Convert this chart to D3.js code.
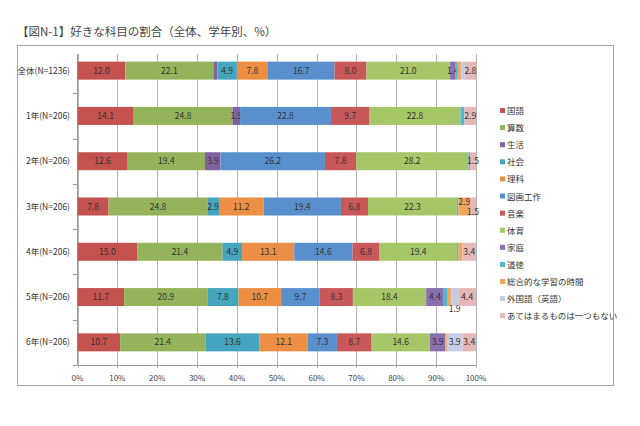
<!DOCTYPE html>
<html>
<head>
<meta charset="utf-8">
<script src="https://cdn.jsdelivr.net/npm/d3@7"></script>
<style>
  body { margin: 0; background: #fff; }
  svg { font-family: "Noto Sans CJK JP", "Noto Sans", sans-serif; }
</style>
</head>
<body>
<script>
// rows (top to bottom)
const categories = ['全体(N=1236)', '1年(N=206)', '2年(N=206)', '3年(N=206)', '4年(N=206)', '5年(N=206)', '6年(N=206)']

// one series per subject, values per row (%)
const kokugo  = [12.0, 14.1, 12.6, 7.8, 15.0, 11.7, 10.7]
const sansu   = [22.1, 24.8, 19.4, 24.8, 21.4, 20.9, 21.4]
const seikatu = [1.0, 1.9, 3.9, 0, 0, 0, 0]
const shakai  = [4.9, 0, 0, 2.9, 4.9, 7.8, 13.6]
const rika    = [7.8, 0, 0, 11.2, 13.1, 10.7, 12.1]
const zuga    = [16.7, 22.8, 26.2, 19.4, 14.6, 9.7, 7.3]
const ongaku  = [8.0, 9.7, 7.8, 6.8, 6.8, 8.3, 8.7]
const taiiku  = [21.0, 22.8, 28.2, 22.3, 19.4, 18.4, 14.6]
const katei   = [1.4, 0, 0, 0, 0, 4.4, 3.9]
const dotoku  = [0.5, 1.0, 0.4, 0.4, 0.4, 1.0, 0]
const sogo    = [0.8, 0, 0, 2.9, 1.0, 0.8, 0.4]
const gaikoku = [1.0, 0, 0, 0, 0, 1.9, 3.9]
const nashi   = [2.8, 2.9, 1.5, 1.5, 3.4, 4.4, 3.4]

const subjects = ['国語', '算数', '生活', '社会', '理科', '図画工作', '音楽', '体育', '家庭', '道徳', '総合的な学習の時間', '外国語（英語）', 'あてはまるものは一つもない']
const series = [kokugo, sansu, seikatu, shakai, rika, zuga, ongaku, taiiku, katei, dotoku, sogo, gaikoku, nashi]
const colors = ['#c4524f', '#95b35a', '#7f63a0', '#45a5be', '#ec8f45', '#5a8fce', '#c9585a', '#a6c667', '#8a6fae', '#52b6d0', '#f4a55c', '#c3cee4', '#e5b8b7']
const ticks = [0, 10, 20, 30, 40, 50, 60, 70, 80, 90, 100]

const W = 640, H = 426
const svg = d3.select('body').append('svg').attr('width', W).attr('height', H)

svg.append('text')
    .attr('x', 17).attr('y', 36)
    .attr('font-size', 11.5).attr('fill', '#444')
    .text('【図N-1】好きな科目の割合（全体、学年別、%）')

svg.append('rect')
    .attr('x', 17.5).attr('y', 45.5).attr('width', 596).attr('height', 340)
    .attr('fill', 'none').attr('stroke', '#a6a6a6')

const x = d3.scaleLinear().domain([0, 100]).range([77.5, 476])
const band = d3.scaleBand().domain(categories).range([48, 365])

// gridlines
svg.append('g').selectAll('line').data(ticks).enter().append('line')
    .attr('x1', d => Math.round(x(d)) + 0.5).attr('x2', d => Math.round(x(d)) + 0.5)
    .attr('y1', 54).attr('y2', 368)
    .attr('stroke', '#b3b3b3')

// x axis
svg.append('line').attr('x1', x(0)).attr('x2', x(100)).attr('y1', 365.5).attr('y2', 365.5).attr('stroke', '#9a9a9a')
svg.append('g').selectAll('text').data(ticks).enter().append('text')
    .attr('x', d => x(d)).attr('y', 381)
    .attr('text-anchor', 'middle').attr('font-size', 8).attr('fill', '#444')
    .text(d => d + '%')

// y axis
svg.append('line').attr('x1', 77.5).attr('x2', 77.5).attr('y1', 54).attr('y2', 365).attr('stroke', '#9a9a9a')
svg.append('g').selectAll('line').data(d3.range(1, categories.length + 1)).enter().append('line')
    .attr('x1', 73).attr('x2', 77.5)
    .attr('y1', i => Math.round(48 + i * band.step()) + 0.5)
    .attr('y2', i => Math.round(48 + i * band.step()) + 0.5)
    .attr('stroke', '#9a9a9a')
svg.append('g').selectAll('text').data(categories).enter().append('text')
    .attr('x', 70).attr('y', d => band(d) + band.bandwidth() / 2 + 3)
    .attr('text-anchor', 'end').attr('font-size', 8.5).attr('fill', '#333')
    .text(d => d)

// stacked bars
const table = categories.map((c, i) => {
    const row = { cat: c }
    subjects.forEach((s, j) => row[s] = series[j][i])
    return row
})
const stack = d3.stack().keys(subjects)(table)

const yb = d => band(d) + band.bandwidth() / 2 - 9

const layers = svg.append('g').selectAll('g').data(stack).enter().append('g')
    .attr('fill', (d, i) => colors[i])

layers.selectAll('rect').data(d => d).enter().append('rect')
    .attr('x', d => x(d[0]))
    .attr('width', d => Math.max(0, x(d[1]) - x(d[0])))
    .attr('y', d => yb(d.data.cat))
    .attr('height', 18)

// a few labels that Excel nudged off centre
const nudge = { '3年(N=206)|総合的な学習の時間': -5, '3年(N=206)|あてはまるものは一つもない': 5, '5年(N=206)|外国語（英語）': 12 }

layers.each(function (layer) {
    d3.select(this).selectAll('text')
        .data(layer.filter(d => d[1] - d[0] >= 1.4))
        .enter().append('text')
        .attr('x', d => x((d[0] + d[1]) / 2))
        .attr('y', d => band(d.data.cat) + band.bandwidth() / 2 + 3 + (nudge[d.data.cat + '|' + layer.key] || 0))
        .attr('text-anchor', 'middle').attr('font-size', 8.5).attr('fill', '#333')
        .text(d => (d[1] - d[0]).toFixed(1))
})

// legend
const lg = svg.append('g').selectAll('g').data(subjects).enter().append('g')
    .attr('transform', (d, i) => `translate(500,${111 + i * 17.1})`)
lg.append('rect').attr('x', 0).attr('y', -3).attr('width', 5).attr('height', 5)
    .attr('fill', (d, i) => colors[i])
lg.append('text').attr('x', 7).attr('y', 3).attr('font-size', 8.5).attr('fill', '#333')
    .text(d => d)
</script>
</body>
</html>
